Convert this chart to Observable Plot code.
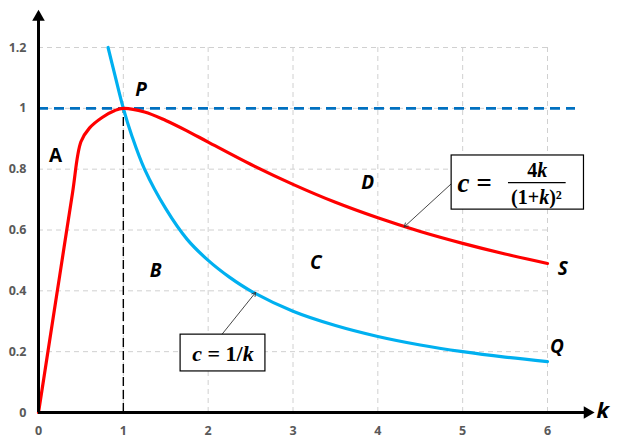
<!DOCTYPE html>
<html>
<head>
<meta charset="utf-8">
<script src="https://cdn.jsdelivr.net/npm/d3@7"></script>
<script src="https://cdn.jsdelivr.net/npm/@observablehq/plot@0.6"></script>
<style>
  html, body { margin: 0; padding: 0; background: #fff; }
  #chart svg { display: block; }
</style>
</head>
<body>
<div id="chart"></div>
<script>
// Tick values
const kTicks = [0, 1, 2, 3, 4, 5, 6];
const cTicks = [0, 0.2, 0.4, 0.6, 0.8, 1, 1.2];
const gridK = [1, 2, 3, 4, 5, 6];
const gridC = [0.2, 0.4, 0.6, 0.8, 1, 1.2];

// Red curve c = 4k/(1+k)^2
const redK = [0, 0.1, 0.25, 0.4, 0.5, 0.6, 0.75, 0.9, 1, 1.25, 1.5, 1.75, 2, 2.5, 3, 3.5, 4, 4.5, 5, 5.5, 6];
const redC = [0, 0.18, 0.45, 0.72, 0.89, 0.935, 0.97, 0.993, 1.0, 0.988, 0.96, 0.926, 0.889, 0.816, 0.75, 0.691, 0.64, 0.595, 0.556, 0.521, 0.49];

// Blue curve c = 1/k
const blueK = [0.82, 0.9, 1, 1.1, 1.25, 1.5, 1.75, 2, 2.25, 2.5, 3, 3.5, 4, 4.5, 5, 5.5, 6];
const blueC = [1.2, 1.11, 1, 0.91, 0.8, 0.67, 0.57, 0.5, 0.445, 0.4, 0.333, 0.286, 0.25, 0.222, 0.2, 0.182, 0.167];

// Reference lines
const hLine = [{x1: 0, x2: 6.33, y: 1}];
const vLine = [{x: 1, y1: 0, y2: 1}];

// Axes extents
const yAxisLine = [{x: 0, y1: 0, y2: 1.29}];
const xAxisLine = [{y: 0, x1: 0, x2: 6.45}];
const yArrowHead = [{x: 0, y: 1.3}];
const xArrowHead = [{x: 6.47, y: 0}];

// Region / point labels
const labels = [
  {x: 0.2, y: 0.845, t: "A", style: "normal"},
  {x: 1.21, y: 1.06, t: "P", style: "italic"},
  {x: 1.38, y: 0.467, t: "B", style: "italic"},
  {x: 3.27, y: 0.493, t: "C", style: "italic"},
  {x: 3.88, y: 0.756, t: "D", style: "italic"},
  {x: 6.18, y: 0.473, t: "S", style: "italic"},
  {x: 6.11, y: 0.217, t: "Q", style: "italic"}
];
const axisName = [{x: 6.65, y: 0.005, t: "k"}];

// Formula boxes
const boxes = [
  {x1: 4.87, x2: 6.43, y1: 0.667, y2: 0.845},
  {x1: 1.675, x2: 2.675, y1: 0.135, y2: 0.256}
];
const pointers = [
  {x1: 4.87, y1: 0.753, x2: 4.31, y2: 0.61},
  {x1: 2.16, y1: 0.256, x2: 2.56, y2: 0.395}
];
const fracLeft = [{x: 4.94, y: 0.752, t: "c ="}];
const fracNum = [{x: 5.88, y: 0.796, t: "4k"}];
const fracBar = [{x1: 5.54, x2: 6.22, y: 0.756}];
const fracDen = [{x: 5.87, y: 0.708, t: "(1+k)²"}];
const formula2 = [{x: 2.175, y: 0.192, t: "c = 1/k"}];

const red = redK.map((k, i) => ({k, c: redC[i]}));
const blue = blueK.map((k, i) => ({k, c: blueC[i]}));

const sans = "'Open Sans', 'Noto Sans', sans-serif";
const serif = "'Liberation Serif', 'DejaVu Serif', serif";

const chart = Plot.plot({
  width: 621,
  height: 448,
  marginLeft: 38,
  marginRight: 74,
  marginTop: 47,
  marginBottom: 36,
  x: {domain: [0, 6]},
  y: {domain: [0, 1.2]},
  style: {background: "#fff"},
  marks: [
    Plot.ruleX(gridK, {stroke: "#d0d0d0", strokeDasharray: "5,4", strokeWidth: 1}),
    Plot.ruleY(gridC, {stroke: "#d0d0d0", strokeDasharray: "5,4", strokeWidth: 1}),
    Plot.axisX(kTicks, {tickSize: 0, tickPadding: 14, fontSize: 12.5, fontWeight: "bold", fill: "#595959", fontFamily: sans, label: null}),
    Plot.axisY(cTicks, {tickSize: 0, tickPadding: 12, fontSize: 12.5, fontWeight: "bold", fill: "#595959", fontFamily: sans, label: null, tickFormat: d => String(d)}),
    Plot.ruleY(hLine, {x1: "x1", x2: "x2", y: "y", stroke: "#0070C0", strokeWidth: 2.6, strokeDasharray: "10,6"}),
    Plot.ruleX(vLine, {x: "x", y1: "y1", y2: "y2", stroke: "#000", strokeWidth: 1.4, strokeDasharray: "9,4"}),
    Plot.line(blue, {x: "k", y: "c", stroke: "#00B0F0", strokeWidth: 3.2, curve: "catmull-rom"}),
    Plot.line(red, {x: "k", y: "c", stroke: "#FF0000", strokeWidth: 3.2, curve: "catmull-rom"}),
    Plot.ruleX(yAxisLine, {x: "x", y1: "y1", y2: "y2", stroke: "#000", strokeWidth: 3}),
    Plot.ruleY(xAxisLine, {y: "y", x1: "x1", x2: "x2", stroke: "#000", strokeWidth: 3}),
    Plot.dot(yArrowHead, {x: "x", y: "y", symbol: "triangle2", r: 6, fill: "#000"}),
    Plot.dot(xArrowHead, {x: "x", y: "y", symbol: "triangle2", r: 6, fill: "#000", rotate: 90}),
    Plot.text(labels.filter(d => d.style === "normal"), {x: "x", y: "y", text: "t", fontSize: 19, fontWeight: "bold", fontFamily: sans, fill: "#000"}),
    Plot.text(labels.filter(d => d.style === "italic"), {x: "x", y: "y", text: "t", fontSize: 19, fontWeight: "bold", fontStyle: "italic", fontFamily: sans, fill: "#000"}),
    Plot.text(axisName, {x: "x", y: "y", text: "t", fontSize: 22, fontWeight: "bold", fontStyle: "italic", fontFamily: sans, fill: "#000"}),
    Plot.arrow(pointers, {x1: "x1", y1: "y1", x2: "x2", y2: "y2", stroke: "#333", strokeWidth: 0.9, headLength: 7}),
    Plot.rect(boxes, {x1: "x1", x2: "x2", y1: "y1", y2: "y2", fill: "#fff", stroke: "#000", strokeWidth: 1.2}),
    Plot.text(fracLeft, {x: "x", y: "y", text: "t", textAnchor: "start", fontSize: 27, fontWeight: "bold", fontStyle: "italic", fontFamily: serif, fill: "#000"}),
    Plot.text(fracNum, {x: "x", y: "y", text: "t", fontSize: 20, fontWeight: "bold", fontFamily: serif, fill: "#000", className: "frac-num"}),
    Plot.ruleY(fracBar, {x1: "x1", x2: "x2", y: "y", stroke: "#000", strokeWidth: 1.3}),
    Plot.text(fracDen, {x: "x", y: "y", text: "t", fontSize: 20, fontWeight: "bold", fontFamily: serif, fill: "#000", className: "frac-den"}),
    Plot.text(formula2, {x: "x", y: "y", text: "t", fontSize: 22, fontWeight: "bold", fontFamily: serif, fill: "#000", className: "formula2"})
  ]
});

// Rich-text styling: italicise the variables
function italicize(cls, parts) {
  const t = chart.querySelector("g." + cls + " text");
  if (!t) return;
  t.textContent = "";
  for (const [s, it] of parts) {
    const ts = document.createElementNS("http://www.w3.org/2000/svg", "tspan");
    ts.textContent = s;
    if (it) ts.setAttribute("font-style", "italic");
    t.appendChild(ts);
  }
}
italicize("frac-num", [["4", false], ["k", true]]);
italicize("frac-den", [["(1+", false], ["k", true], [")²", false]]);
italicize("formula2", [["c", true], [" = 1/", false], ["k", true]]);

document.getElementById("chart").appendChild(chart);
</script>
</body>
</html>
